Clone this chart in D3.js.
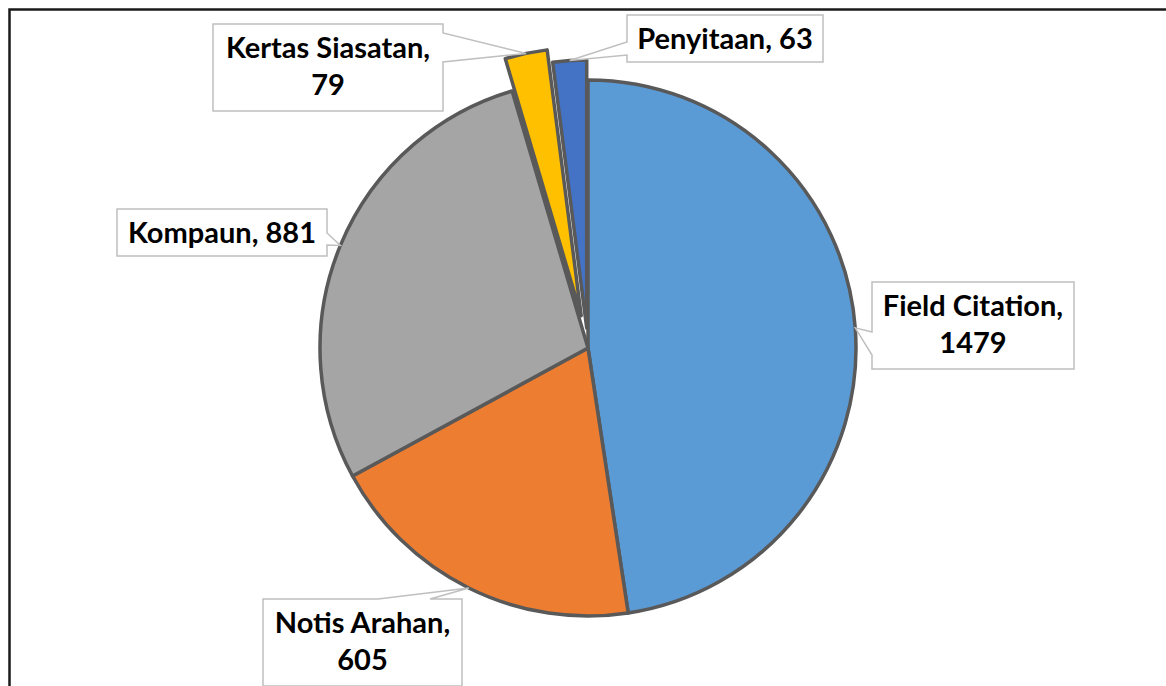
<!DOCTYPE html>
<html>
<head>
<meta charset="utf-8">
<script src="https://cdn.jsdelivr.net/npm/d3@7"></script>
<style>
  body { margin: 0; background: #fff; }
  svg { display: block; }
</style>
</head>
<body>
<div id="chart"></div>
<script>
// data
const categories = ["Field Citation", "Notis Arahan", "Kompaun", "Kertas Siasatan", "Penyitaan"];
const values = [1479, 605, 881, 79, 63];
const colors = ["#5B9BD5", "#ED7D31", "#A5A5A5", "#FFC000", "#4472C4"];

// layout (exploded offset per slice, label boxes with callout pointer)
const explode = [0, 0, 0, 33, 20];
const labelLayout = [
    { box: [872, 282, 202, 87], side: "left", base: [332, 355], lines: 2 },
    { box: [263, 599, 199, 87], side: "top", base: [378, 430], lines: 2 },
    { box: [117, 209, 210, 47], side: "right", base: [233, 245], lines: 1 },
    { box: [213, 24, 230, 87], side: "right", base: [33, 62], lines: 2 },
    { box: [627, 15, 196, 47], side: "left", base: [42, 55], lines: 1 }
];

const width = 1166, height = 686;
const cx = 588, cy = 348, radius = 268;

let svg = d3.select("#chart").append("svg")
    .attr("width", width)
    .attr("height", height);

svg.append("rect")
    .attr("width", width).attr("height", height)
    .attr("fill", "#fff");

// outer frame (only top and left visible)
svg.append("rect")
    .attr("x", 9.5).attr("y", 9.5)
    .attr("width", 1300).attr("height", 900)
    .attr("fill", "none")
    .attr("stroke", "#1a1a1a")
    .attr("stroke-width", 2.5);

let pie = d3.pie().sort(null).value(d => d.value);
let arc = d3.arc().innerRadius(0).outerRadius(radius);

let data = categories.map((c, i) => ({ name: c, value: values[i], i: i }));
let arcs = pie(data);

let g = svg.append("g").attr("transform", "translate(" + cx + "," + cy + ")");

g.selectAll("path.slice")
    .data(arcs)
    .enter()
    .append("path")
        .attr("class", "slice")
        .attr("d", arc)
        .attr("transform", function (d) {
            let mid = (d.startAngle + d.endAngle) / 2;
            let off = explode[d.data.i];
            return "translate(" + (off * Math.sin(mid)) + "," + (-off * Math.cos(mid)) + ")";
        })
        .attr("fill", d => colors[d.data.i])
        .attr("stroke", "#595959")
        .attr("stroke-width", 3.5)
        .attr("stroke-linejoin", "round");

// callout outline: rectangle with a pointer inserted on one side
function calloutPath(l, tip) {
    let [x, y, w, h] = l.box;
    let [a, b] = l.base;
    let p = [[x, y]];
    if (l.side === "top") p.push([a, y], tip, [b, y]);
    p.push([x + w, y]);
    if (l.side === "right") p.push([x + w, a], tip, [x + w, b]);
    p.push([x + w, y + h]);
    p.push([x, y + h]);
    if (l.side === "left") p.push([x, b], tip, [x, a]);
    return "M" + p.map(q => q[0] + "," + q[1]).join("L") + "Z";
}

let labels = svg.append("g");

arcs.forEach(function (d) {
    let i = d.data.i;
    let l = labelLayout[i];
    let mid = (d.startAngle + d.endAngle) / 2;
    let r = radius + explode[i];
    let tip = [cx + r * Math.sin(mid), cy - r * Math.cos(mid)];

    labels.append("path")
        .attr("d", calloutPath(l, tip))
        .attr("fill", "#fff")
        .attr("stroke", "#bfbfbf")
        .attr("stroke-width", 1.5)
        .attr("stroke-linejoin", "miter");

    let text = d.data.name + ", " + d.data.value;
    let lines = l.lines === 2 ? [d.data.name + ",", String(d.data.value)] : [text];
    let [x, y, w] = l.box;
    lines.forEach(function (t, k) {
        labels.append("text")
            .attr("x", x + w / 2)
            .attr("y", y + 34 + k * 37)
            .attr("text-anchor", "middle")
            .style("font-family", "Lato, 'Open Sans', sans-serif")
            .style("font-weight", "bold")
            .style("font-size", "29px")
            .style("fill", "#000")
            .text(t);
    });
});
</script>
</body>
</html>
